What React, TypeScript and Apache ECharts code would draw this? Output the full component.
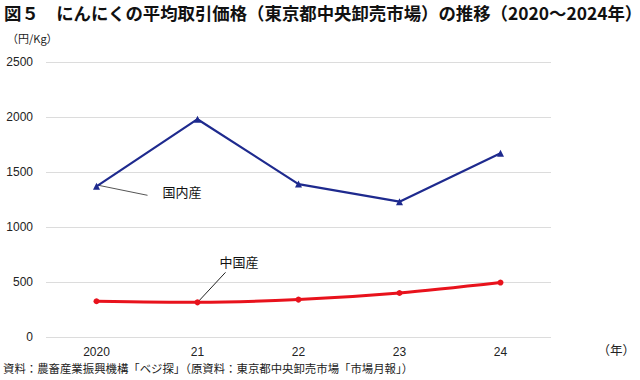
import React, { useEffect, useRef } from "react";
import * as echarts from "echarts";

const years = ["2020", "21", "22", "23", "24"];
const domestic = [1370, 1980, 1390, 1230, 1670];
const chinese = [325, 315, 340, 400, 495];
const yTicks = [0, 500, 1000, 1500, 2000, 2500];

const titleText = "図５　にんにくの平均取引価格（東京都中央卸売市場）の推移（2020～2024年）";
const unitText = "（円/Kg）";
const yearUnit = "（年）";
const sourceText = "資料：農畜産業振興機構「ベジ探」（原資料：東京都中央卸売市場「市場月報」）";

const JP = "'Noto Sans CJK JP', 'Noto Sans', sans-serif";
const NUM = "'Liberation Sans', Arial, sans-serif";

export default function App() {
  const ref = useRef<HTMLDivElement>(null);
  useEffect(() => {
    if (!ref.current) return;
    const chart = echarts.init(ref.current, null, { renderer: "svg" });
    chart.setOption({
      animation: false,
      backgroundColor: "#fff",
      grid: { left: 46, right: 89, top: 62, bottom: 43 },
      xAxis: {
        type: "category",
        data: years,
        boundaryGap: true,
        axisLine: { show: false },
        axisTick: { show: false },
        axisLabel: { color: "#222", fontSize: 12, fontFamily: NUM, margin: 9 },
      },
      yAxis: {
        type: "value",
        min: yTicks[0],
        max: yTicks[yTicks.length - 1],
        interval: 500,
        axisLine: { show: false },
        axisTick: { show: false },
        axisLabel: {
          color: "#222",
          fontSize: 12,
          fontFamily: NUM,
          margin: 13,
          formatter: (v: number) => String(v),
        },
        splitLine: { lineStyle: { color: "#dcdcdc", width: 1 } },
      },
      series: [
        {
          name: "国内産",
          type: "line",
          data: domestic,
          symbol: "triangle",
          symbolSize: 7,
          lineStyle: { color: "#1e2a8e", width: 2.2 },
          itemStyle: { color: "#1e2a8e" },
          z: 3,
        },
        {
          name: "中国産",
          type: "line",
          data: chinese,
          smooth: 0.3,
          symbol: "circle",
          symbolSize: 6,
          lineStyle: { color: "#e8121c", width: 3 },
          itemStyle: { color: "#e8121c" },
          z: 3,
        },
      ],
    });

    const d0 = chart.convertToPixel({ gridIndex: 0 }, [0, domestic[0]]) as number[];
    const c1 = chart.convertToPixel({ gridIndex: 0 }, [1, chinese[1]]) as number[];

    chart.setOption({
      graphic: [
        {
          type: "text",
          left: 4,
          top: 4,
          style: { text: titleText, fill: "#111", font: `bold 17.4px ${JP}` },
        },
        {
          type: "text",
          left: 7,
          top: 32,
          style: { text: unitText, fill: "#222", font: `11px ${JP}` },
        },
        {
          type: "text",
          right: 5,
          top: 343,
          style: { text: yearUnit, fill: "#222", font: `12.5px ${JP}` },
        },
        {
          type: "text",
          left: 3,
          top: 362,
          style: { text: sourceText, fill: "#222", font: `11.4px ${JP}` },
        },
        {
          type: "line",
          shape: { x1: d0[0] + 2, y1: d0[1] - 1, x2: d0[0] + 51, y2: d0[1] + 9 },
          style: { stroke: "#555", lineWidth: 1 },
          z: 2,
        },
        {
          type: "text",
          x: d0[0] + 66,
          y: d0[1] - 1,
          style: { text: "国内産", fill: "#111", font: `13px ${JP}` },
        },
        {
          type: "line",
          shape: { x1: c1[0] + 1, y1: c1[1] - 1, x2: c1[0] + 28, y2: c1[1] - 30 },
          style: { stroke: "#222", lineWidth: 1 },
          z: 2,
        },
        {
          type: "text",
          x: c1[0] + 22,
          y: c1[1] - 47,
          style: { text: "中国産", fill: "#111", font: `13px ${JP}` },
        },
      ],
    });
    return () => chart.dispose();
  }, []);
  return <div ref={ref} style={{ width: 640, height: 380, position: "absolute", left: 0, top: 0 }} />;
}
